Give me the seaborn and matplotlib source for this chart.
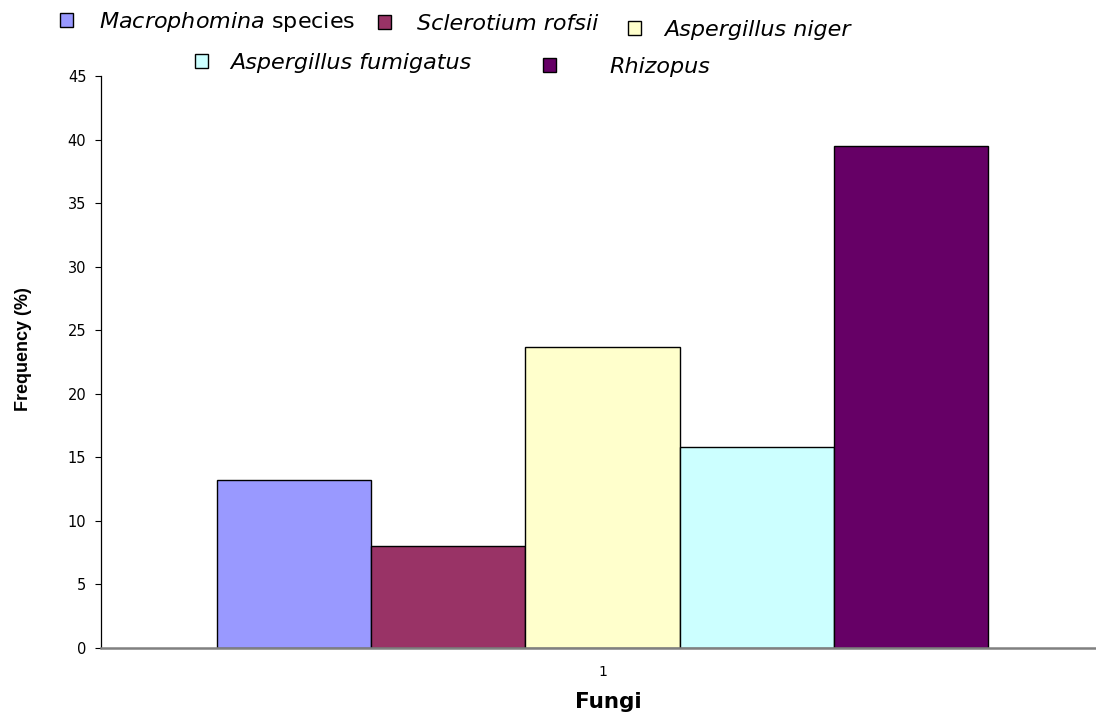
import matplotlib
matplotlib.use("Agg")
import matplotlib.pyplot as plt
import pandas as pd
import seaborn as sns

# datos
especies = ["Macrophomina species", "Sclerotium rofsii", "Aspergillus niger",
            "Aspergillus fumigatus", "Rhizopus"]
etiquetas = [r"$\mathit{Macrophomina}$ species", "Sclerotium rofsii", "Aspergillus niger",
             "Aspergillus fumigatus", "Rhizopus"]
frecuencia = [13.2, 8.0, 23.7, 15.8, 39.5]
grupo = ["1"] * len(especies)
colores = ["#9999FF", "#993366", "#FFFFCC", "#CCFFFF", "#660066"]

sns.set_theme(style="white")
plt.rcParams["font.family"] = ["DejaVu Sans"]
plt.rcParams["mathtext.fontset"] = "dejavusans"

df = pd.DataFrame({"grupo": grupo, "especie": especies, "frecuencia": frecuencia})

W, H = 1096, 717
fig = plt.figure(figsize=(W / 100, H / 100), dpi=100)
ax = fig.add_axes([101 / W, 1 - 648 / H, 995 / W, 572 / H])
sns.barplot(data=df, x="grupo", y="frecuencia", hue="especie", hue_order=especies,
            palette=dict(zip(especies, colores)), width=0.769, edgecolor="black",
            linewidth=1, saturation=1, legend=False, ax=ax)

ax.set_xlim(-0.5, 0.492)
ax.set_ylim(0, 45)
ax.set_yticks(range(0, 50, 5))
ax.tick_params(axis="y", direction="out", length=4.5, width=0.8, color="black",
               labelsize=10.5, left=True, pad=6, labelcolor="black")
ax.tick_params(axis="x", length=0, labelsize=10, pad=12, labelcolor="black")
for lado in ["top", "right"]:
    ax.spines[lado].set_visible(False)
ax.spines["left"].set_color("black")
ax.spines["left"].set_linewidth(0.9)
ax.spines["bottom"].set_color("#808080")
ax.spines["bottom"].set_linewidth(1.8)
ax.set_ylabel("Frequency (%)", fontsize=13, fontweight="bold", color="black",
              family="Liberation Sans")
ax.yaxis.set_label_coords(-0.069, 0.523)
ax.set_xlabel("Fungi", fontsize=15.5, fontweight="bold", color="black")
ax.xaxis.set_label_coords(0.51, -0.077)

# leyenda dispersa como en el original: una entrada por posición (px desde arriba-izq.)
barras = ax.patches[:len(especies)]
posiciones = [(60, 22), (378, 24), (628, 30), (195, 63), (543, 67)]
separaciones = [1.17, 1.17, 1.04, 1.0, 2.4]
for i, (barra, etiqueta, (px, py), sep) in enumerate(zip(barras, etiquetas, posiciones, separaciones)):
    estilo = "normal" if i == 0 else "italic"
    fig.legend([barra], [etiqueta], loc="center left", bbox_to_anchor=(px / W, 1 - py / H),
               frameon=False, handlelength=0.6, handleheight=0.6, handletextpad=sep,
               borderpad=0, borderaxespad=0, labelcolor="black",
               prop={"size": 16, "style": estilo})

fig.savefig("out.png", dpi=100)
